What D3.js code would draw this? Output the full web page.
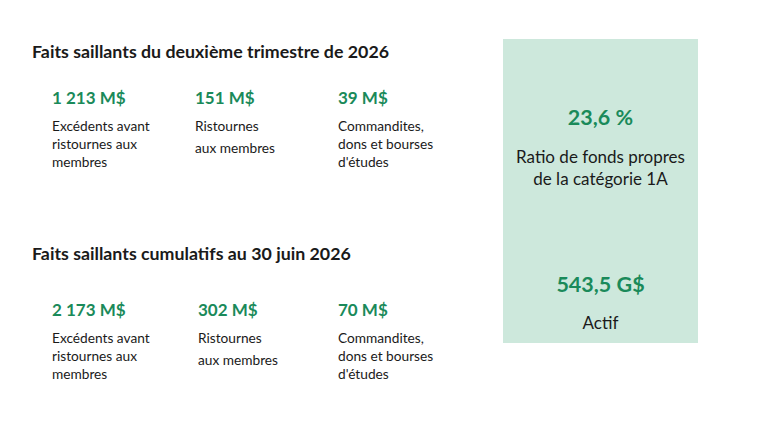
<!DOCTYPE html>
<html>
<head>
<meta charset="utf-8">
<script src="https://cdn.jsdelivr.net/npm/d3@7"></script>
<style>
  html, body { margin: 0; padding: 0; background: #fff; }
  svg { display: block; font-family: Lato, "Open Sans", sans-serif; }
</style>
</head>
<body>
<svg width="768" height="432"></svg>
<script>
const sectionTitles = ['Faits saillants du deuxième trimestre de 2026', 'Faits saillants cumulatifs au 30 juin 2026'];
const quarterValues = ['1 213 M$', '151 M$', '39 M$'];
const cumulValues = ['2 173 M$', '302 M$', '70 M$'];
const itemLabels = [
  ['Excédents avant', 'ristournes aux', 'membres'],
  ['Ristournes', 'aux membres'],
  ['Commandites,', 'dons et bourses', "d'études"]
];
const sideValues = ['23,6 %', '543,5 G$'];
const sideLabels = [['Ratio de fonds propres', 'de la catégorie 1A'], ['Actif']];

const green = '#1a8a5a';
const ink = '#1a1a1a';
const svg = d3.select('svg');

// column positions for the three items
const colX = d3.scalePoint().domain([0, 1, 2]).range([52, 338]);
// the two sections, title baselines
const sectionY = d3.scalePoint().domain([0, 1]).range([58, 260]);

const sections = [quarterValues, cumulValues];

sections.forEach((vals, s) => {
  const y0 = sectionY(s);
  const vOff = s === 0 ? 46 : 56;
  svg.append('text')
    .attr('x', 32).attr('y', y0)
    .attr('font-size', 17.8).attr('font-weight', 700).attr('fill', ink)
    .text(sectionTitles[s]);

  const g = svg.selectAll(null).data(vals).enter().append('g')
    .attr('transform', (d, i) => `translate(${colX(i) + (s === 1 && i === 1 ? 3 : 0)},${y0 + vOff})`);

  g.append('text')
    .attr('font-size', 17).attr('font-weight', 700).attr('fill', green)
    .text(d => d);

  g.each(function(d, i) {
    const lines = itemLabels[i];
    d3.select(this).selectAll('text.lab').data(lines).enter().append('text')
      .attr('class', 'lab')
      .attr('y', (l, k) => 27 + k * (lines.length === 2 ? 22 : 18))
      .attr('font-size', 13.7).attr('fill', ink)
      .text(l => l);
  });
});

// side panel
const panel = svg.append('g');
panel.append('rect')
  .attr('x', 503).attr('y', 39).attr('width', 195).attr('height', 304)
  .attr('fill', '#cde8dc');

const cx = 600.5;
const sideY = d3.scalePoint().domain([0, 1]).range([125, 292]);
sideValues.forEach((v, i) => {
  panel.append('text')
    .attr('x', cx).attr('y', sideY(i))
    .attr('text-anchor', 'middle')
    .attr('font-size', 21.5).attr('font-weight', 700).attr('fill', green)
    .text(v);
  panel.selectAll(null).data(sideLabels[i]).enter().append('text')
    .attr('x', cx)
    .attr('y', (l, k) => sideY(i) + (i === 0 ? 38 : 37) + k * 22)
    .attr('text-anchor', 'middle')
    .attr('font-size', 17).attr('fill', ink)
    .text(l => l);
});
</script>
</body>
</html>
